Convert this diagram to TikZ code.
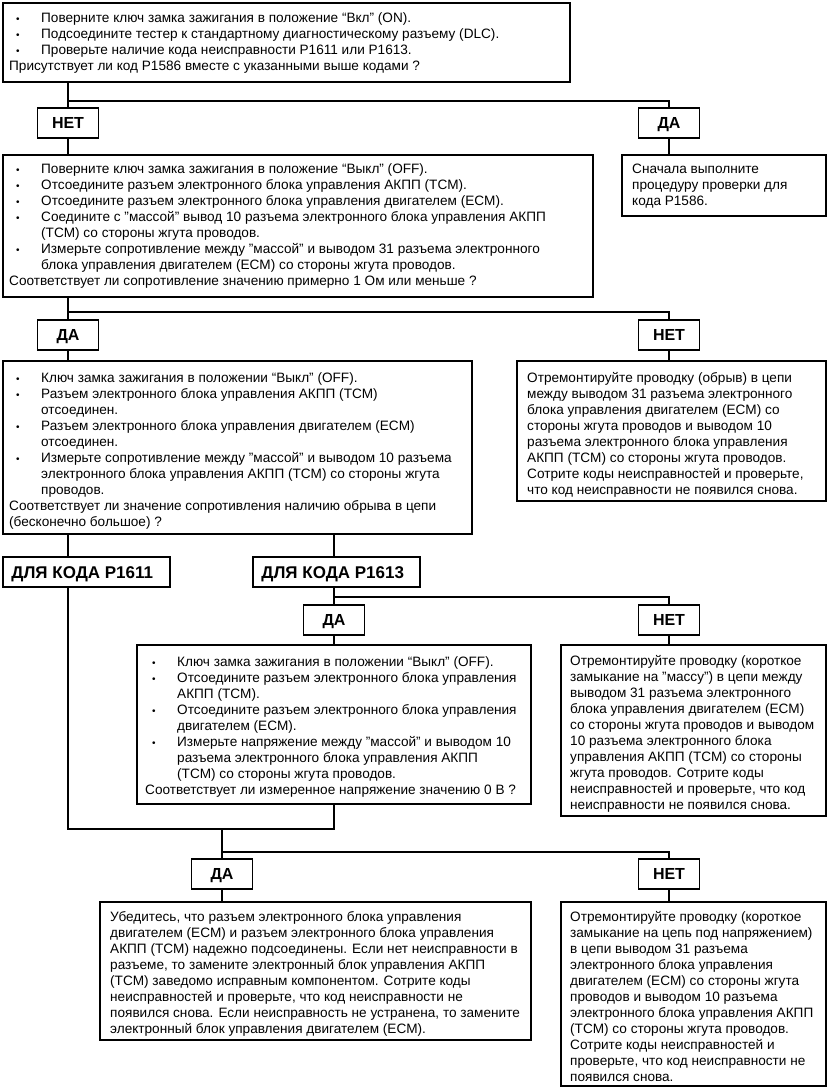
\documentclass[tikz,border=0pt]{standalone}
\usepackage{fontspec}
\setmainfont{Liberation Sans}
\usetikzlibrary{fit}
\newcommand\bitem{\makebox[32pt][l]{\hspace{7pt}{\fontsize{10}{10}\selectfont •}}}
\newcommand\bcont{\makebox[32pt]{}}
\begin{document}
\begin{tikzpicture}[x=1pt,y=-1pt,
  box/.style={draw, line width=1.5pt, inner sep=0pt, outer sep=0pt},
  boxthick/.style={box, line width=2pt},
  txt/.style={anchor=north west, align=left, inner sep=0pt, font=\fontsize{13.6}{16}\selectfont},
  lab/.style={draw, line width=1.5pt, inner sep=0pt, minimum width=61pt, minimum height=30pt, text height=11.5pt, text depth=0pt, font=\bfseries\fontsize{16}{19}\selectfont},
  code/.style={draw, line width=1.5pt, inner sep=0pt},
  codetxt/.style={anchor=west, inner sep=0pt, text height=12.5pt, text depth=0pt, font=\bfseries\fontsize{17}{20}\selectfont},
  wire/.style={line width=1.5pt},
  wirethick/.style={line width=2.2pt}]
\useasboundingbox (0,0) rectangle (829,1090);

% boxes
\node[box, fit={(3,3) (570,82)}] (b1) {};
\node[box, fit={(3,155) (593,297)}] (b2) {};
\node[box, fit={(622,155) (826,216)}] (b3) {};
\node[box, fit={(3,361) (472,534)}] (b4) {};
\node[box, fit={(517,361) (826,501)}] (b5) {};
\node[box, fit={(137,645) (531,804)}] (b6) {};
\node[box, fit={(561,645) (826,816)}] (b7) {};
\node[boxthick, fit={(100,902) (531,1040)}] (b8) {};
\node[box, fit={(561,902) (826,1086)}] (b9) {};

% labels
\node[lab] (n1) at (68,123) {НЕТ};
\node[lab] (d1) at (669,123) {ДА};
\node[lab] (d2) at (68,335) {ДА};
\node[lab] (n2) at (669,335) {НЕТ};
\node[code, fit={(3,557) (170,587)}] (p11) {};
\node[codetxt] (p11t) at ([xshift=9pt]p11.west) {ДЛЯ КОДА P1611};
\node[code, fit={(253,557) (420,587)}] (p13) {};
\node[codetxt] (p13t) at ([xshift=9pt]p13.west) {ДЛЯ КОДА P1613};
\node[lab] (d3) at (334,620) {ДА};
\node[lab] (n3) at (669,620) {НЕТ};
\node[lab] (d4) at (222,874) {ДА};
\node[lab] (n4) at (669,874) {НЕТ};

% junction coordinates
\coordinate (j1) at (68,101);
\coordinate (j2) at (68,312);
\coordinate (j3) at (334,597);
\coordinate (j4) at (334,829);
\coordinate (j5) at (222,829);
\coordinate (j6) at (222,852);

% connectors
\draw[wire] (b1.south -| n1) -- (n1.north);
\draw[wire] (j1) -| (d1.north);
\draw[wire] (n1.south) -- (n1.south |- b2.north);
\draw[wire] (d1.south) -- (d1.south |- b3.north);
\draw[wire] (b2.south -| d2) -- (d2.north);
\draw[wire] (j2) -| (n2.north);
\draw[wire] (d2.south) -- (d2.south |- b4.north);
\draw[wire] (n2.south) -- (n2.south |- b5.north);
\draw[wire] (b4.south -| d2) -- (p11.north -| d2);
\draw[wire] (b4.south -| d3) -- (p13.north -| d3);
\draw[wire] (p13.south -| d3) -- (d3.north);
\draw[wire] (j3) -| (n3.north);
\draw[wire] (d3.south) -- (d3.south |- b6.north);
\draw[wire] (n3.south) -- (n3.south |- b7.north);
\draw[wire] (p11.south -| d2) |- (j4) -- (j4 |- b6.south);
\draw[wire] (j5) -- (d4.north);
\draw[wirethick] (j6) -| (n4.north);
\draw[wire] (d4.south) -- (d4.south |- b8.north);
\draw[wire] (n4.south) -- (n4.south |- b9.north);

% texts
\node[txt] (t1) at ([xshift=6pt,yshift=-9pt]b1.north west) {%
\bitem Поверните ключ замка зажигания в положение “Вкл” (ON).\\
\bitem Подсоедините тестер к стандартному диагностическому разъему (DLC).\\
\bitem Проверьте наличие кода неисправности P1611 или P1613.\\
Присутствует ли код P1586 вместе с указанными выше кодами ?};

\node[txt] (t2) at ([xshift=6pt,yshift=-8pt]b2.north west) {%
\bitem Поверните ключ замка зажигания в положение “Выкл” (OFF).\\
\bitem Отсоедините разъем электронного блока управления АКПП (TCM).\\
\bitem Отсоедините разъем электронного блока управления двигателем (ECM).\\
\bitem Соедините с "массой" вывод 10 разъема электронного блока управления АКПП\\
\bcont (TCM) со стороны жгута проводов.\\
\bitem Измерьте сопротивление между "массой" и выводом 31 разъема электронного\\
\bcont блока управления двигателем (ECM) со стороны жгута проводов.\\
Соответствует ли сопротивление значению примерно 1 Ом или меньше ?};

\node[txt] (t3) at ([xshift=10pt,yshift=-9pt]b3.north west) {%
Сначала выполните\\
процедуру проверки для\\
кода P1586.};

\node[txt] (t4) at ([xshift=6pt,yshift=-11pt]b4.north west) {%
\bitem Ключ замка зажигания в положении “Выкл” (OFF).\\
\bitem Разъем электронного блока управления АКПП (TCM)\\
\bcont отсоединен.\\
\bitem Разъем электронного блока управления двигателем (ECM)\\
\bcont отсоединен.\\
\bitem Измерьте сопротивление между "массой" и выводом 10 разъема\\
\bcont электронного блока управления АКПП (TCM) со стороны жгута\\
\bcont проводов.\\
Соответствует ли значение сопротивления наличию обрыва в цепи\\
(бесконечно большое) ?};

\node[txt] (t5) at ([xshift=10pt,yshift=-11pt]b5.north west) {%
Отремонтируйте проводку (обрыв) в цепи\\
между выводом 31 разъема электронного\\
блока управления двигателем (ECM) со\\
стороны жгута проводов и выводом 10\\
разъема электронного блока управления\\
АКПП (TCM) со стороны жгута проводов.\\
Сотрите коды неисправностей и проверьте,\\
что код неисправности не появился снова.};

\node[txt] (t6) at ([xshift=8pt,yshift=-11pt]b6.north west) {%
\bitem Ключ замка зажигания в положении “Выкл” (OFF).\\
\bitem Отсоедините разъем электронного блока управления\\
\bcont АКПП (TCM).\\
\bitem Отсоедините разъем электронного блока управления\\
\bcont двигателем (ECM).\\
\bitem Измерьте напряжение между "массой" и выводом 10\\
\bcont разъема электронного блока управления АКПП\\
\bcont (TCM) со стороны жгута проводов.\\
Соответствует ли измеренное напряжение значению 0 В ?};

\node[txt] (t7) at ([xshift=9pt,yshift=-10pt]b7.north west) {%
Отремонтируйте проводку (короткое\\
замыкание на "массу") в цепи между\\
выводом 31 разъема электронного\\
блока управления двигателем (ECM)\\
со стороны жгута проводов и выводом\\
10 разъема электронного блока\\
управления АКПП (TCM) со стороны\\
жгута проводов. Сотрите коды\\
неисправностей и проверьте, что код\\
неисправности не появился снова.};

\node[txt] (t8) at ([xshift=10pt,yshift=-9pt]b8.north west) {%
Убедитесь, что разъем электронного блока управления\\
двигателем (ECM) и разъем электронного блока управления\\
АКПП (TCM) надежно подсоединены. Если нет неисправности в\\
разъеме, то замените электронный блок управления АКПП\\
(TCM) заведомо исправным компонентом. Сотрите коды\\
неисправностей и проверьте, что код неисправности не\\
появился снова. Если неисправность не устранена, то замените\\
электронный блок управления двигателем (ECM).};

\node[txt] (t9) at ([xshift=9pt,yshift=-9pt]b9.north west) {%
Отремонтируйте проводку (короткое\\
замыкание на цепь под напряжением)\\
в цепи выводом 31 разъема\\
электронного блока управления\\
двигателем (ECM) со стороны жгута\\
проводов и выводом 10 разъема\\
электронного блока управления АКПП\\
(TCM) со стороны жгута проводов.\\
Сотрите коды неисправностей и\\
проверьте, что код неисправности не\\
появился снова.};
\end{tikzpicture}
\end{document}
